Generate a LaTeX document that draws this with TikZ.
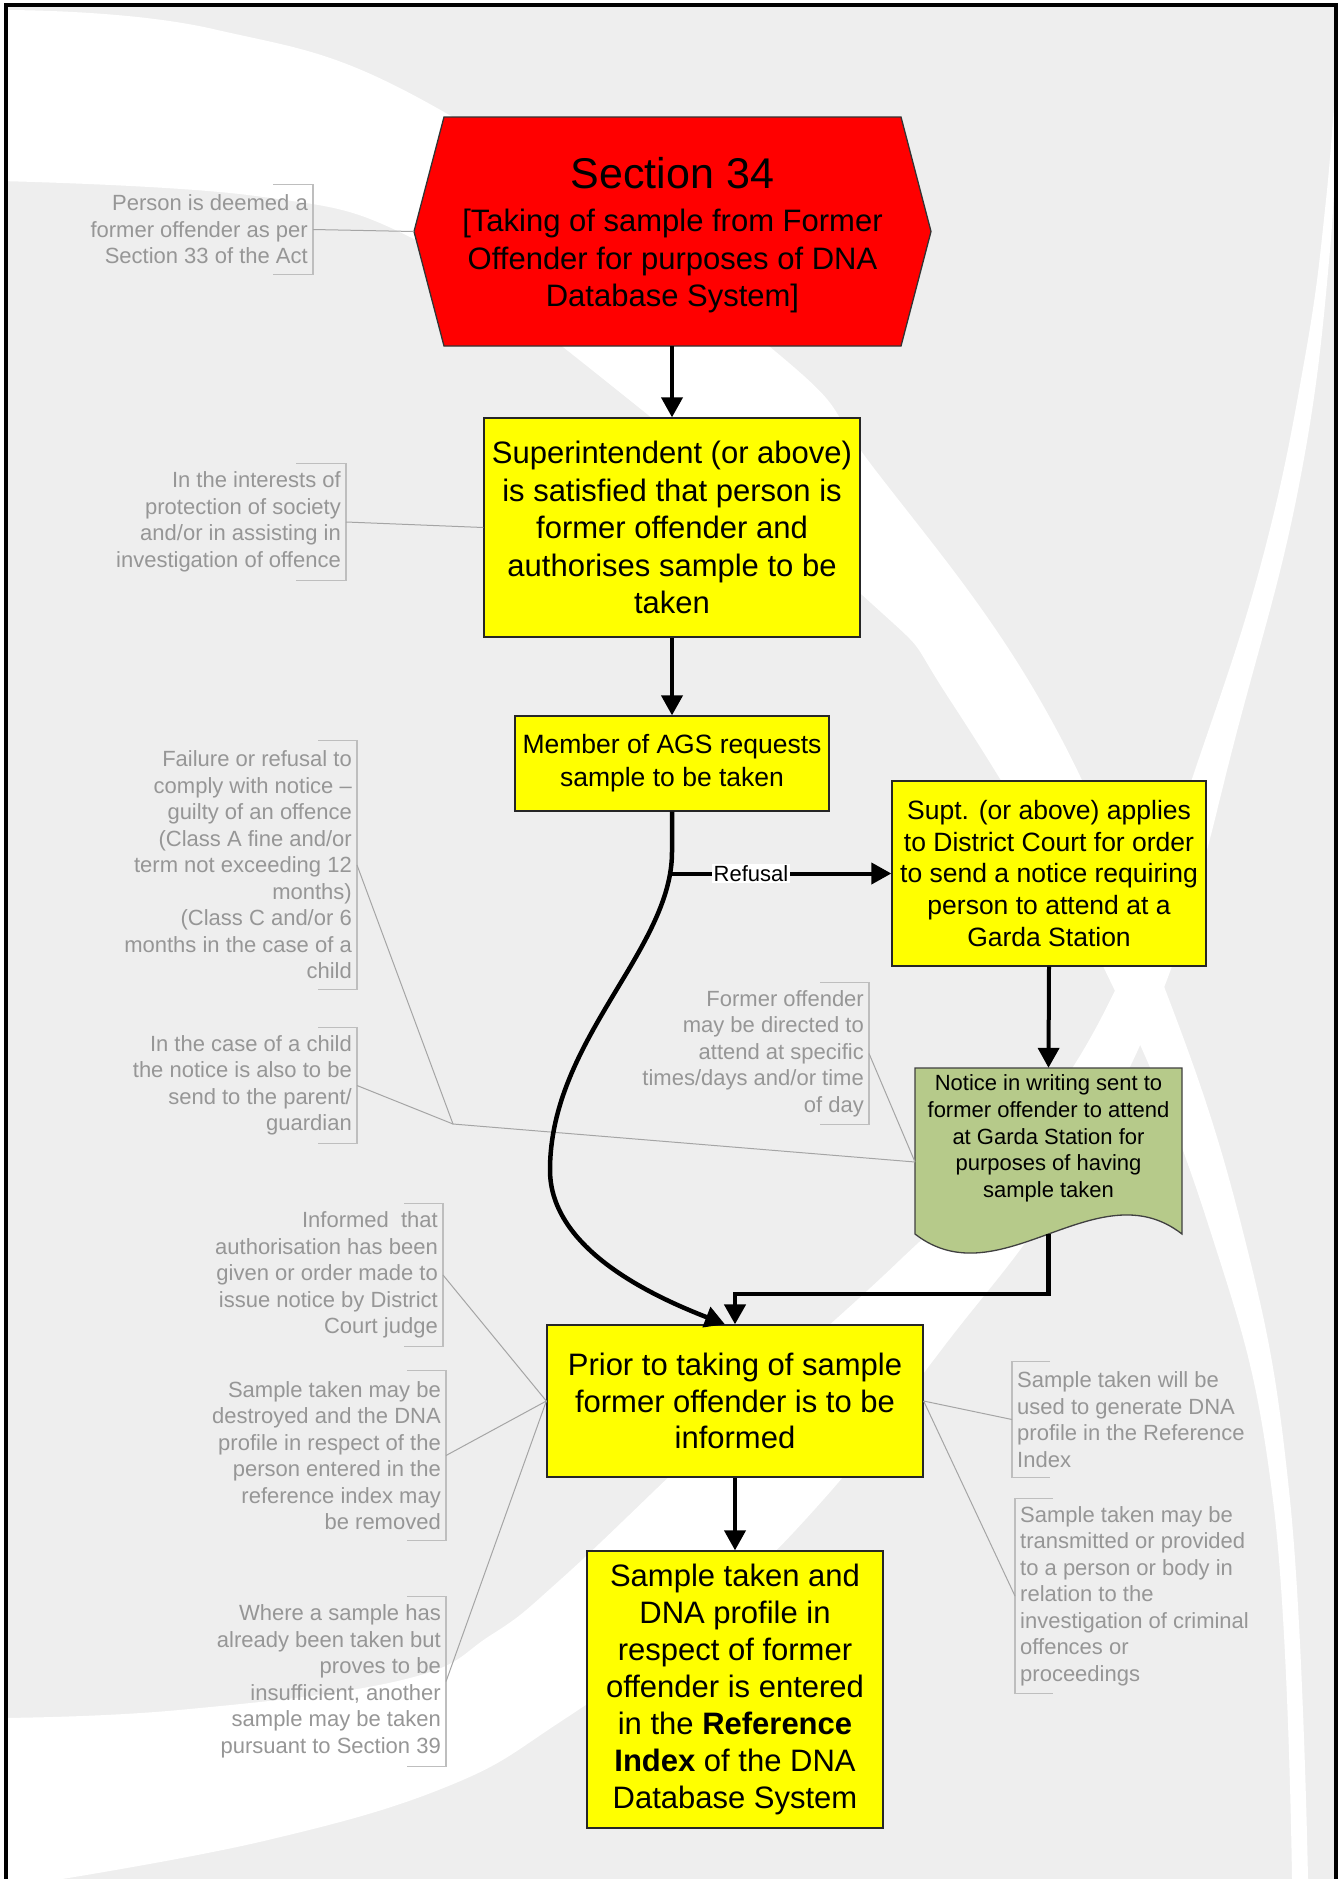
\documentclass[tikz,border=0pt]{standalone}
\usepackage{fontspec}
\setmainfont{Liberation Sans}
\usetikzlibrary{arrows.meta}
\definecolor{bggray}{RGB}{238,238,238}
\definecolor{annotxt}{RGB}{150,150,150}
\definecolor{brkcol}{RGB}{190,190,190}
\definecolor{glcol}{RGB}{165,165,165}
\definecolor{docgreen}{RGB}{182,202,138}
\definecolor{boxyellow}{RGB}{255,255,0}
\definecolor{hexred}{RGB}{255,0,0}
\newcommand\lbrk[2]{\draw[brk] ([xshift=-#2pt]#1.north east) -- (#1.north east) -- (#1.south east) -- ([xshift=-#2pt]#1.south east);}
\newcommand\rbrk[2]{\draw[brk] ([xshift=#2pt]#1.north west) -- (#1.north west) -- (#1.south west) -- ([xshift=#2pt]#1.south west);}
\begin{document}
\begin{tikzpicture}[x=1pt,y=-1pt,
  ybox/.style={draw=black!85, line width=1.3pt, fill=boxyellow, align=center, inner sep=0pt},
  annot/.style={text=annotxt, font=\fontsize{22}{26.5}\selectfont, inner xsep=5pt, inner ysep=0pt},
  lnote/.style={annot, align=right, anchor=east},
  rnote/.style={annot, align=left, anchor=west},
  brk/.style={draw=brkcol, line width=1.3pt},
  gline/.style={draw=glcol, line width=1pt},
  arr/.style={line width=4pt, -{Triangle[length=20pt,width=21pt]}},
]
\useasboundingbox (0,0) rectangle (1339,1879);
\fill[white] (0,0) rectangle (1339,1879);
\fill[bggray] (6,5) rectangle (1336,1879);
\begin{scope}
\clip (6,5) rectangle (1336,1879);
% band from top-left to bottom-right
\fill[white] plot[smooth,tension=0.7] coordinates {(0,10) (213,29) (444,112) (770,347) (873,467) (1040,700) (1150,950) (1240,1220) (1290,1500) (1308,1879)}
  -- plot[smooth,tension=0.7] coordinates {(1292,1879) (1273,1500) (1210,1230) (1100,960) (950,700) (860,593) (563,347) (410,237) (256,196) (0,181)} -- cycle;
% crescent from top-right to bottom-left
\fill[white] plot[smooth,tension=0.7] coordinates {(1337,60) (1326,200) (1305,357) (1262,560) (1195,770) (1120,980) (1020,1140) (900,1260) (780,1370) (676,1470) (560,1580) (491,1635) (402,1680) (179,1710) (0,1718)}
  -- (0,1879) -- plot[smooth,tension=0.7] coordinates {(62,1879) (268,1840) (446,1787) (560,1722) (700,1620) (823,1500) (945,1345) (1060,1190) (1165,985) (1240,720) (1300,480) (1330,250) (1338,60)} -- cycle;
\end{scope}
\draw[line width=4pt] (6,1890) -- (6,5) -- (1336,5) -- (1336,1890);

% main shapes
\filldraw[fill=hexred, draw=black!80, line width=1.3pt] (444,117) -- (901,117) -- (931,231.5) -- (901,346) -- (444,346) -- (414,231.5) -- cycle;
\node[inner sep=0pt, minimum width=457pt, minimum height=229pt] (hex) at (672,231.5) {};
\coordinate (hexW) at (414,231.5);
\node[align=center, inner sep=0pt, font=\fontsize{31}{37.5}\selectfont] (hext) at (672.5,235)
  {{\fontsize{43}{47}\selectfont Section 34}\\[6pt]{[}Taking of sample from Former\\Offender for purposes of DNA\\Database System{]}};

\node[ybox, minimum width=376pt, minimum height=219pt, font=\fontsize{31}{37.5}\selectfont] (sup) at (672,527.5)
  {Superintendent (or above)\\is satisfied that person is\\former offender and\\authorises sample to be\\taken};

\node[ybox, minimum width=314pt, minimum height=95pt, font=\fontsize{26.5}{33}\selectfont] (mem) at (672,763.5)
  {Member of AGS requests\\sample to be taken};

\node[ybox, minimum width=314pt, minimum height=185pt, font=\fontsize{26.5}{31.8}\selectfont] (supt) at (1049,873.5)
  {Supt. (or above) applies\\to District Court for order\\to send a notice requiring\\person to attend at a\\Garda Station};

\filldraw[fill=docgreen, draw=black!75, line width=1.3pt] (915,1068) -- (1182,1068) -- (1182,1234) .. controls (1097,1168) and (1000,1300) .. (915,1234) -- cycle;
\node[inner sep=0pt, minimum width=267pt, minimum height=166pt] (doc) at (1048.5,1151) {};
\node[align=center, inner sep=0pt, font=\fontsize{22}{26.7}\selectfont] (doct) at (1048.5,1138.5)
  {Notice in writing sent to\\former offender to attend\\at Garda Station for\\purposes of having\\sample taken};
\coordinate (docL) at (915,1162);

\node[ybox, minimum width=376pt, minimum height=152pt, font=\fontsize{31}{36.5}\selectfont] (prior) at (735,1401)
  {Prior to taking of sample\\former offender is to be\\informed};

\node[ybox, minimum width=296pt, minimum height=277pt, font=\fontsize{31}{37}\selectfont] (samp) at (735,1689.5)
  {Sample taken and\\DNA profile in\\respect of former\\offender is entered\\in the \textbf{Reference}\\\textbf{Index} of the DNA\\Database System};

% annotations
\node[lnote, minimum height=89pt] (n1) at (313,229.5) {Person is deemed a\\former offender as per\\Section 33 of the Act};
\node[lnote, minimum height=116pt] (n2) at (346,522) {In the interests of\\protection of society\\and/or in assisting in\\investigation of offence};
\node[lnote, minimum height=248pt] (n3) at (357,865) {Failure or refusal to\\comply with notice –\\guilty of an offence\\(Class A fine and/or\\term not exceeding 12\\months)\\(Class C and/or 6\\months in the case of a\\child};
\node[lnote, minimum height=115pt] (n4) at (357,1085.5) {In the case of a child\\the notice is also to be\\send to the parent/\\guardian};
\node[lnote, minimum height=141pt] (n5) at (869,1053.5) {Former offender\\may be directed to\\attend at specific\\times/days and/or time\\of day};
\node[lnote, minimum height=142pt] (n6) at (443,1275) {Informed\ \ that\\authorisation has been\\given or order made to\\issue notice by District\\Court judge};
\node[lnote, minimum height=169pt] (n7) at (446,1455.5) {Sample taken may be\\destroyed and the DNA\\profile in respect of the\\person entered in the\\reference index may\\be removed};
\node[lnote, minimum height=169pt] (n8) at (446,1681.5) {Where a sample has\\already been taken but\\proves to be\\insufficient, another\\sample may be taken\\pursuant to Section 39};
\node[rnote, minimum height=115pt] (n9) at (1012,1419.5) {Sample taken will be\\used to generate DNA\\profile in the Reference\\Index};
\node[rnote, minimum height=194pt] (n10) at (1015,1596) {Sample taken may be\\transmitted or provided\\to a person or body in\\relation to the\\investigation of criminal\\offences or\\proceedings};

\lbrk{n1}{40} \lbrk{n2}{50} \lbrk{n3}{39} \lbrk{n4}{39} \lbrk{n5}{49}
\lbrk{n6}{39} \lbrk{n7}{39} \lbrk{n8}{39}
\rbrk{n9}{38} \rbrk{n10}{38}

\coordinate (jn) at (453,1124);
\draw[gline] (n1.east) -- (hexW);
\draw[gline] (n2.east) -- (sup.west);
\draw[gline] (n3.east) -- (jn) -- (docL);
\draw[gline] (n4.east) -- (jn);
\draw[gline] (n5.east) -- (docL);
\draw[gline] (n6.east) -- (prior.west);
\draw[gline] (n7.east) -- (prior.west);
\draw[gline] (n8.east) -- (prior.west);
\draw[gline] (n9.west) -- (prior.east);
\draw[gline] (n10.west) -- (prior.east);

% main connectors
\draw[arr] (hex.south) -- (sup.north);
\draw[arr] (sup.south) -- (mem.north);
\coordinate (br) at (672,873.5);
\draw[arr, line width=4.5pt] (mem.south) -- (672,852) .. controls (672,950) and (550,1040) .. (550,1170) .. controls (550,1250) and (655,1297) .. ([xshift=-10pt]prior.north);
\draw[arr] (br) -- node[pos=0.36, fill=white, inner sep=1.5pt, font=\fontsize{22}{24}\selectfont] (refl) {Refusal} (supt.west);
\draw[arr] (supt.south) -- (doc.north);
\draw[arr, line width=4.5pt] (doc.south) -- (1048.5,1294) -| (prior.north);
\draw[arr] (prior.south) -- (samp.north);
\end{tikzpicture}
\end{document}
